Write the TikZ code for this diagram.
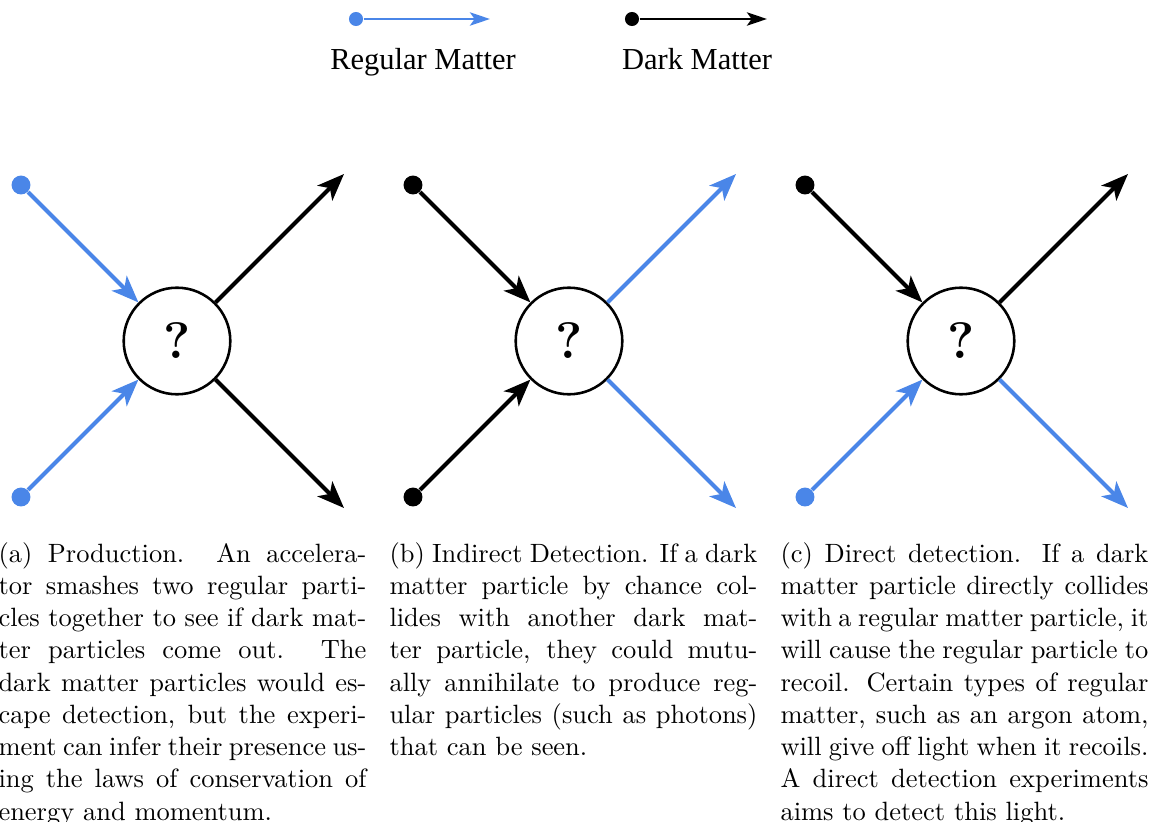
\documentclass[tikz,border=0pt]{standalone}
\usepackage{fontspec}
\newfontfamily\legendfont{Liberation Serif}
\usetikzlibrary{arrows.meta}
\definecolor{regblue}{RGB}{74,134,232}
\begin{document}
\begin{tikzpicture}[x=0.37807pt,y=-0.37807pt,
  bigtip/.style={-{Stealth[length=10.2pt,width=7.96pt,inset=2.65pt]}},
  smalltip/.style={-{Stealth[length=7.55pt,width=5pt,inset=1.74pt]}},
  regline/.style={draw=regblue, line width=1.48pt, bigtip},
  darkline/.style={draw=black, line width=1.48pt, bigtip},
  regdot/.style={circle, fill=regblue, inner sep=0pt, minimum size=7.15pt},
  darkdot/.style={circle, fill=black, inner sep=0pt, minimum size=7.15pt},
  legreg/.style={draw=regblue, line width=1.12pt, smalltip},
  legdark/.style={draw=black, line width=1.12pt, smalltip},
  legregdot/.style={circle, fill=regblue, inner sep=0pt, minimum size=5.3pt},
  legdarkdot/.style={circle, fill=black, inner sep=0pt, minimum size=5.3pt},
  vertex/.style={circle, draw, line width=0.97pt, minimum size=40.3pt, inner sep=0pt,
    font=\fontsize{19.4}{23}\selectfont\bfseries},
  legtext/.style={anchor=base, inner sep=0pt, font=\legendfont\fontsize{11.53}{13.5}\selectfont},
  captext/.style={anchor=base west, inner sep=0pt, text width=139.1pt, align=justify,
    font=\fontsize{10}{12.2}\selectfont}
]
\useasboundingbox (0,0) rectangle (1152,822);
\clip (0,0) rectangle (1152,822);

% legend
\node[legregdot] (lr0) at (356,19) {};
\coordinate (lr1) at (490,19);
\draw[legreg] (lr0) -- (lr1);
\node[legtext] (lrt) at (423,70) {Regular Matter};
\node[legdarkdot] (ld0) at (632,19) {};
\coordinate (ld1) at (767,19);
\draw[legdark] (ld0) -- (ld1);
\node[legtext] (ldt) at (697,70) {Dark Matter};

% (a) production
\node[vertex] (va) at (177,341) {?};
\node[regdot] (aa) at (21,185) {};
\node[regdot] (ab) at (21,497) {};
\coordinate (ac) at (344,174);
\coordinate (ad) at (344,508);
\draw[regline] (aa) -- (va);
\draw[regline] (ab) -- (va);
\draw[darkline] (va) -- (ac);
\draw[darkline] (va) -- (ad);

% (b) indirect detection
\node[vertex] (vb) at (569,341) {?};
\node[darkdot] (ba) at (413,185) {};
\node[darkdot] (bb) at (413,497) {};
\coordinate (bc) at (736,174);
\coordinate (bd) at (736,508);
\draw[darkline] (ba) -- (vb);
\draw[darkline] (bb) -- (vb);
\draw[regline] (vb) -- (bc);
\draw[regline] (vb) -- (bd);

% (c) direct detection
\node[vertex] (vc) at (961,341) {?};
\node[darkdot] (ca) at (805,185) {};
\node[regdot] (cb) at (805,497) {};
\coordinate (cc) at (1128,174);
\coordinate (cd) at (1128,508);
\draw[darkline] (ca) -- (vc);
\draw[regline] (cb) -- (vc);
\draw[darkline] (vc) -- (cc);
\draw[regline] (vc) -- (cd);

% captions
\node[captext] (capa) at (-2,562) {(a) Production.  An accelerator smashes two regular particles together to see if dark matter particles come out.  The dark matter particles would escape detection, but the experiment can infer their presence using the laws of conservation of energy and momentum.};
\node[captext] (capb) at (389,562) {(b) Indirect Detection. If a dark matter particle by chance collides with another dark matter particle, they could mutually annihilate to produce regular particles (such as photons) that can be seen.};
\node[captext] (capc) at (780,562) {(c) Direct detection.  If a dark matter particle directly collides with a regular matter particle, it will cause the regular particle to recoil. Certain types of regular matter, such as an argon atom, will give off light when it recoils. A direct detection experiments aims to detect this light.};
\end{tikzpicture}
\end{document}
